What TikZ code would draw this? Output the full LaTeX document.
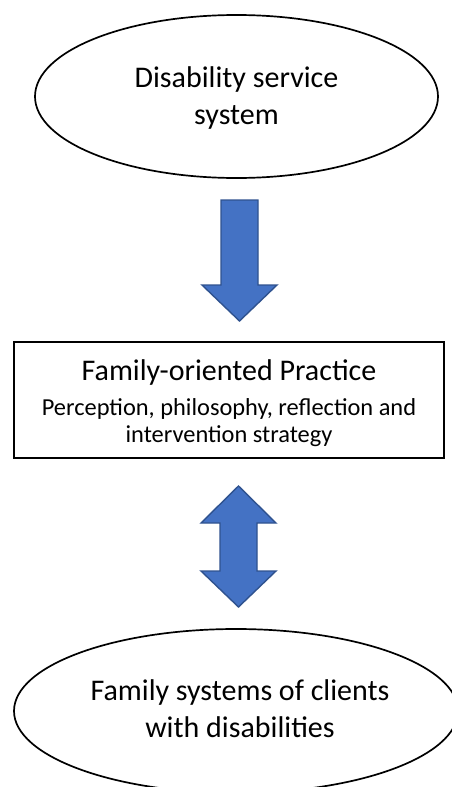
\documentclass[tikz,border=0pt]{standalone}
\usepackage{fontspec}
\setmainfont{Carlito}
\usetikzlibrary{shapes.geometric}
\definecolor{arrowfill}{HTML}{4472C4}
\definecolor{arrowline}{HTML}{2F528F}
\begin{document}
\begin{tikzpicture}[x=1pt,y=-1pt,
  oval/.style={ellipse, draw=black, line width=1.7pt, fill=white, inner sep=0pt},
  panel/.style={rectangle, draw=black, line width=1.3pt, fill=white, inner sep=0pt},
  bigtext/.style={anchor=base, inner sep=0pt, font=\fontsize{30}{36}\selectfont},
  smalltext/.style={anchor=base, inner sep=0pt, font=\fontsize{24.4}{29}\selectfont},
  blockarrow/.style={fill=arrowfill, draw=arrowline, line width=1.4pt, line join=miter}]
\useasboundingbox (0,0) rectangle (452,787);
\clip (0,0) rectangle (452,787);

% top ellipse
\node[oval, minimum width=403pt, minimum height=163pt] (service) at (236.5,96.5) {};
\node[bigtext] (serviceA) at (236.5,87) {Disability service};
\node[bigtext] (serviceB) at (236.5,124) {system};

% one-way block arrow
\draw[blockarrow] (221,200) -- (258,200) -- (258,285) -- (277,285) -- (239.5,321)
  -- (202,285) -- (221,285) -- cycle;

% practice box
\node[panel, minimum width=430pt, minimum height=116pt] (practice) at (229,400) {};
\node[bigtext] (practiceA) at (229,380) {Family-oriented Practice};
\node[smalltext] (practiceB) at (229,415) {Perception, philosophy, reflection and};
\node[smalltext] (practiceC) at (229,442) {intervention strategy};

% two-way block arrow
\draw[blockarrow] (238.5,486) -- (276,523) -- (257,523) -- (257,571) -- (276,571)
  -- (238.5,607) -- (201,571) -- (220,571) -- (220,523) -- (201,523) -- cycle;

% bottom ellipse
\node[oval, minimum width=444pt, minimum height=164pt] (family) at (236,711) {};
\node[bigtext] (familyA) at (240,700) {Family systems of clients};
\node[bigtext] (familyB) at (240,737) {with disabilities};
\end{tikzpicture}
\end{document}
